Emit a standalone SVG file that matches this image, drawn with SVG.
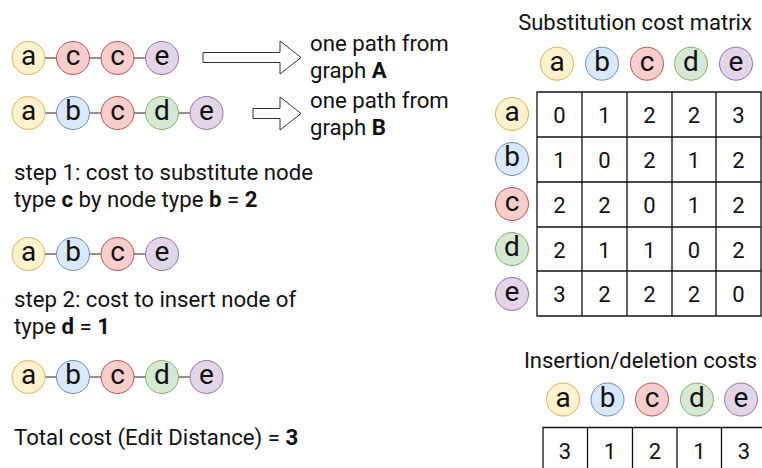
<svg xmlns="http://www.w3.org/2000/svg" width="762" height="468" viewBox="0 0 762 468">
<style>
text{font-family:Roboto,"Liberation Sans",sans-serif;fill:#111}
.t{font-size:22.2px}
.h{font-size:22px;text-anchor:middle}
.L{font-size:28px;text-anchor:middle}
.n{font-size:22px;text-anchor:middle}
.b{font-weight:bold}
circle{stroke-width:1}
.ya{fill:#fff2cc;stroke:#d6b656}
.bb{fill:#dae8fc;stroke:#6c8ebf}
.rc{fill:#f8cecc;stroke:#b85450}
.gd{fill:#d5e8d4;stroke:#82b366}
.pe{fill:#e1d5e7;stroke:#9673a6}
.ln{stroke:#222;stroke-width:1;fill:none}
.arr{fill:#fff;stroke:#333;stroke-width:1}
.grid{fill:none;stroke:#111;stroke-width:1.3}
</style>
<defs>
<g id="na"><circle r="16.5" class="ya"/><text class="L" y="7.2">a</text></g>
<g id="nb"><circle r="16.5" class="bb"/><text class="L" y="7.2">b</text></g>
<g id="nc"><circle r="16.5" class="rc"/><text class="L" y="7.2">c</text></g>
<g id="nd"><circle r="16.5" class="gd"/><text class="L" y="7.2">d</text></g>
<g id="ne"><circle r="16.5" class="pe"/><text class="L" y="7.2">e</text></g>
</defs>

<g id="connectors">
<path class="ln" d="M45,58H56.5M89.5,58H101M134,58H145.5"/>
<path class="ln" d="M45,113H56.5M89.5,113H101M134,113H145.5M178.5,113H190"/>
<path class="ln" d="M45,254H56.5M89.5,254H101M134,254H145.5"/>
<path class="ln" d="M45,377H56.5M89.5,377H101M134,377H145.5M178.5,377H190"/>
<path class="arr" d="M203,52.5H280V41L301,57.5L280,74V62.5H203Z"/>
<path class="arr" d="M253,108.5H280V97L301,113.5L280,130V118.5H253Z"/>
</g>

<g id="path-a">
<use href="#na" x="28.5" y="58"/><use href="#nc" x="73" y="58"/><use href="#nc" x="117.5" y="58"/><use href="#ne" x="162" y="58"/>
</g>
<g id="path-b">
<use href="#na" x="28.5" y="113"/><use href="#nb" x="73" y="113"/><use href="#nc" x="117.5" y="113"/><use href="#nd" x="162" y="113"/><use href="#ne" x="206.5" y="113"/>
</g>
<g id="label-a"><text class="t" x="310" y="51">one path from</text><text class="t" x="310" y="78">graph <tspan class="b">A</tspan></text></g>
<g id="label-b"><text class="t" x="310" y="108">one path from</text><text class="t" x="310" y="135">graph <tspan class="b">B</tspan></text></g>

<g id="step1"><text class="t" x="14" y="180">step 1: cost to substitute node</text><text class="t" x="14" y="206.5">type <tspan class="b">c</tspan> by node type <tspan class="b">b</tspan> = <tspan class="b">2</tspan></text></g>
<g id="path-step1">
<use href="#na" x="28.5" y="254"/><use href="#nb" x="73" y="254"/><use href="#nc" x="117.5" y="254"/><use href="#ne" x="162" y="254"/>
</g>
<g id="step2"><text class="t" x="14" y="307">step 2: cost to insert node of</text><text class="t" x="14" y="334">type <tspan class="b">d</tspan> = <tspan class="b">1</tspan></text></g>
<g id="path-step2">
<use href="#na" x="28.5" y="377"/><use href="#nb" x="73" y="377"/><use href="#nc" x="117.5" y="377"/><use href="#nd" x="162" y="377"/><use href="#ne" x="206.5" y="377"/>
</g>
<g id="total"><text class="t" x="14" y="445">Total cost (Edit Distance) = <tspan class="b">3</tspan></text></g>

<g id="subst-matrix">
<text class="h" x="635" y="30">Substitution cost matrix</text>
<use href="#na" x="557" y="63.7"/><use href="#nb" x="602" y="63.7"/><use href="#nc" x="647" y="63.7"/><use href="#nd" x="691" y="63.7"/><use href="#ne" x="736" y="63.7"/>
<use href="#na" x="512" y="114"/><use href="#nb" x="512" y="159"/><use href="#nc" x="512" y="204"/><use href="#nd" x="512" y="249"/><use href="#ne" x="512" y="294"/>
<path class="grid" d="M537,92H761V316H537Z M582,92V316M627,92V316M672,92V316M716,92V316 M537,137H761M537,182H761M537,227H761M537,271H761"/>
<g class="n">
<text x="559.5" y="123">0</text><text x="604.5" y="123">1</text><text x="649.5" y="123">2</text><text x="694" y="123">2</text><text x="738.5" y="123">3</text>
<text x="559.5" y="168">1</text><text x="604.5" y="168">0</text><text x="649.5" y="168">2</text><text x="694" y="168">1</text><text x="738.5" y="168">2</text>
<text x="559.5" y="213">2</text><text x="604.5" y="213">2</text><text x="649.5" y="213">0</text><text x="694" y="213">1</text><text x="738.5" y="213">2</text>
<text x="559.5" y="257.5">2</text><text x="604.5" y="257.5">1</text><text x="649.5" y="257.5">1</text><text x="694" y="257.5">0</text><text x="738.5" y="257.5">2</text>
<text x="559.5" y="302">3</text><text x="604.5" y="302">2</text><text x="649.5" y="302">2</text><text x="694" y="302">2</text><text x="738.5" y="302">0</text>
</g>
</g>

<g id="indel-costs">
<text class="h" x="640.5" y="368">Insertion/deletion costs</text>
<use href="#na" x="563" y="399.5"/><use href="#nb" x="607.5" y="399.5"/><use href="#nc" x="652" y="399.5"/><use href="#nd" x="697" y="399.5"/><use href="#ne" x="741" y="399.5"/>
<path class="grid" d="M543,475V427.5H770M543,427.5V475M587.5,427.5V475M632.5,427.5V475M677,427.5V475M721.5,427.5V475"/>
<g class="n">
<text x="565" y="459">3</text><text x="610" y="459">1</text><text x="655" y="459">2</text><text x="699.5" y="459">1</text><text x="744" y="459">3</text>
</g>
</g>
</svg>
